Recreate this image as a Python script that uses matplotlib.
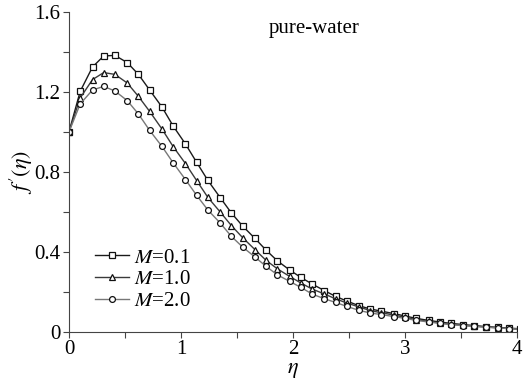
import numpy as np
import matplotlib
matplotlib.use('Agg')
import matplotlib.pyplot as plt
from matplotlib import ticker

plt.rcParams['font.family'] = ['Liberation Serif', 'DejaVu Serif']
plt.rcParams['mathtext.fontset'] = 'stix'

# eta positions of the markers
eta = [0.00, 0.10, 0.21, 0.31, 0.41, 0.52, 0.62, 0.72, 0.83, 0.93,
       1.04, 1.14, 1.24, 1.35, 1.45, 1.55, 1.66, 1.76, 1.86, 1.97,
       2.07, 2.17, 2.28, 2.38, 2.48, 2.59, 2.69, 2.79, 2.90, 3.00,
       3.10, 3.21, 3.31, 3.41, 3.52, 3.62, 3.72, 3.83, 3.93, 4.03]

# M = 0.1
f_m01 = [1.000, 1.203, 1.325, 1.380, 1.383, 1.347, 1.288, 1.210, 1.125, 1.030,
         0.940, 0.848, 0.758, 0.672, 0.595, 0.530, 0.468, 0.409, 0.356, 0.310,
         0.273, 0.240, 0.207, 0.178, 0.155, 0.131, 0.115, 0.104, 0.092, 0.080,
         0.068, 0.058, 0.050, 0.043, 0.037, 0.032, 0.027, 0.023, 0.019, 0.016]
# M = 1.0
f_m10 = [1.000, 1.170, 1.262, 1.297, 1.288, 1.245, 1.178, 1.103, 1.015, 0.927,
         0.842, 0.757, 0.673, 0.600, 0.532, 0.472, 0.412, 0.358, 0.316, 0.278,
         0.245, 0.215, 0.190, 0.166, 0.145, 0.125, 0.107, 0.096, 0.085, 0.073,
         0.062, 0.053, 0.045, 0.039, 0.033, 0.029, 0.025, 0.021, 0.017, 0.014]
# M = 2.0
f_m20 = [1.000, 1.140, 1.210, 1.228, 1.205, 1.157, 1.090, 1.008, 0.928, 0.846,
         0.762, 0.683, 0.610, 0.545, 0.478, 0.425, 0.375, 0.328, 0.286, 0.253,
         0.223, 0.190, 0.166, 0.148, 0.128, 0.108, 0.095, 0.087, 0.077, 0.068,
         0.058, 0.050, 0.043, 0.037, 0.032, 0.028, 0.024, 0.020, 0.017, 0.014]

fig = plt.figure(figsize=(5.29, 3.83), dpi=100)
ax = fig.add_axes([0.1304, 0.1332, 0.8469, 0.8355])

ax.plot(eta, f_m01, color='#1a1a1a', linewidth=1.0, marker='s', markersize=4.8,
        markerfacecolor='white', markeredgecolor='#111111', markeredgewidth=0.9,
        label=r'$M$=0.1')
ax.plot(eta, f_m10, color='#3a3a3a', linewidth=1.0, marker='^', markersize=4.8,
        markerfacecolor='white', markeredgecolor='#111111', markeredgewidth=0.9,
        label=r'$M$=1.0')
ax.plot(eta, f_m20, color='#777777', linewidth=1.0, marker='o', markersize=4.2,
        markerfacecolor='white', markeredgecolor='#111111', markeredgewidth=0.9,
        label=r'$M$=2.0')

ax.set_xlim(0, 4)
ax.set_ylim(0, 1.6)

ax.spines['right'].set_visible(False)
ax.spines['top'].set_visible(False)
ax.spines['left'].set_color('#444444')
ax.spines['bottom'].set_color('#444444')

ax.xaxis.set_major_locator(ticker.MultipleLocator(1))
ax.xaxis.set_minor_locator(ticker.MultipleLocator(0.5))
ax.yaxis.set_major_locator(ticker.MultipleLocator(0.4))
ax.yaxis.set_minor_locator(ticker.MultipleLocator(0.2))
ax.xaxis.set_major_formatter(ticker.FuncFormatter(lambda v, p: '%g' % v))
ax.yaxis.set_major_formatter(ticker.FuncFormatter(lambda v, p: '0' if v == 0 else '%.1f' % v))
ax.tick_params(which='both', direction='out', length=4, width=0.8, color='#444444',
               labelsize=15, pad=2)

ax.set_xlabel(r'$\eta$', fontsize=16, labelpad=1)
ax.set_ylabel(r"$f\,'(\eta)$", fontsize=16, labelpad=0)

ax.text(0.445, 0.935, 'pure-water', transform=ax.transAxes, fontsize=15)

ax.legend(loc='lower left', bbox_to_anchor=(0.04, 0.04), frameon=False,
          fontsize=15, handlelength=1.6, handletextpad=0.25, labelspacing=0.1,
          borderaxespad=0)

fig.savefig('out.png', dpi=100)
